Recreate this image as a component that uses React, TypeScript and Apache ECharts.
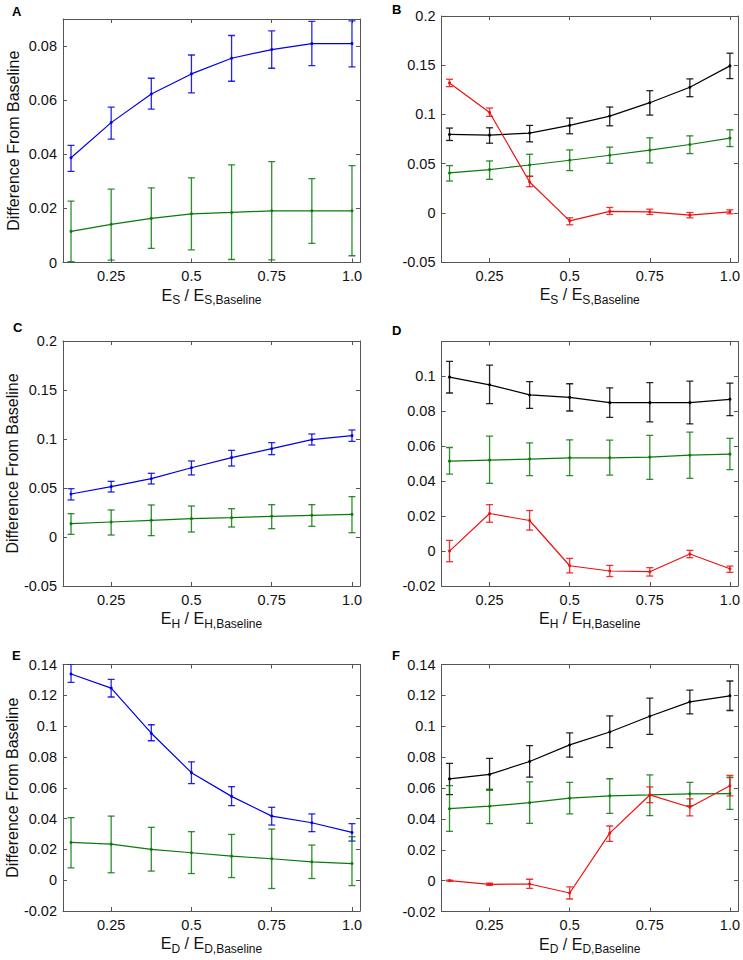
import React, { useEffect, useRef } from "react";
import * as echarts from "echarts";

// x positions (E / E_Baseline)
const X = [0.125, 0.25, 0.375, 0.5, 0.625, 0.75, 0.875, 1.0];
const X_TICKS = [0.25, 0.5, 0.75, 1.0];

// Panel A
const A_blue = [0.0387, 0.0517, 0.0623, 0.0697, 0.0755, 0.0787, 0.0809, 0.0809];
const A_blue_lo = [0.0337, 0.0456, 0.0567, 0.0627, 0.067, 0.0718, 0.0728, 0.0723];
const A_blue_hi = [0.0433, 0.0574, 0.0681, 0.0767, 0.0839, 0.0856, 0.0891, 0.0893];
const A_green = [0.0115, 0.0141, 0.0163, 0.018, 0.0185, 0.0191, 0.0191, 0.0191];
const A_green_lo = [0.0003, 0.0009, 0.0052, 0.0047, 0.0011, 0.001, 0.0071, 0.0025];
const A_green_hi = [0.0227, 0.0271, 0.0276, 0.0313, 0.0361, 0.0373, 0.031, 0.0358];

// Panel B
const B_black = [0.0796, 0.0789, 0.081, 0.0888, 0.0983, 0.1119, 0.1276, 0.1493];
const B_black_lo = [0.0735, 0.0707, 0.0721, 0.0803, 0.0884, 0.0993, 0.118, 0.1364];
const B_black_hi = [0.0861, 0.0864, 0.0888, 0.0963, 0.1075, 0.1241, 0.1361, 0.1622];
const B_green = [0.0405, 0.0439, 0.0486, 0.0534, 0.0585, 0.0636, 0.0694, 0.0759];
const B_green_lo = [0.0323, 0.034, 0.0371, 0.0429, 0.0503, 0.0507, 0.0602, 0.0673];
const B_green_hi = [0.048, 0.0527, 0.0595, 0.0639, 0.0667, 0.0762, 0.0782, 0.0844];
const B_red = [0.132, 0.102, 0.0313, -0.0082, 0.0014, 0.001, -0.0024, 0.001];
const B_red_lo = [0.1282, 0.098, 0.0265, -0.0122, -0.0017, -0.0017, -0.0051, -0.001];
const B_red_hi = [0.1357, 0.1065, 0.0371, -0.0051, 0.0054, 0.0037, 0.0003, 0.003];

// Panel C
const C_blue = [0.0439, 0.0514, 0.0595, 0.0707, 0.081, 0.0901, 0.0993, 0.1034];
const C_blue_lo = [0.0378, 0.0459, 0.0541, 0.0633, 0.0724, 0.084, 0.0939, 0.0976];
const C_blue_hi = [0.0493, 0.0568, 0.065, 0.0776, 0.0884, 0.0963, 0.1051, 0.1092];
const C_green = [0.0136, 0.0153, 0.017, 0.0187, 0.0197, 0.0211, 0.0221, 0.0231];
const C_green_lo = [0.0027, 0.002, 0.0014, 0.0051, 0.0102, 0.0085, 0.0109, 0.0044];
const C_green_hi = [0.0238, 0.0276, 0.0327, 0.0316, 0.0289, 0.033, 0.033, 0.0412];

// Panel D
const D_black = [0.0996, 0.0952, 0.0894, 0.088, 0.085, 0.085, 0.085, 0.0869];
const D_black_lo = [0.0905, 0.0844, 0.0817, 0.0802, 0.0766, 0.074, 0.0728, 0.0776];
const D_black_hi = [0.1086, 0.1065, 0.097, 0.0958, 0.0935, 0.0964, 0.0973, 0.0962];
const D_green = [0.0515, 0.0521, 0.0527, 0.0534, 0.0534, 0.0538, 0.0549, 0.0555];
const D_green_lo = [0.0441, 0.0388, 0.0432, 0.0432, 0.0435, 0.0411, 0.0416, 0.0466];
const D_green_hi = [0.0593, 0.0658, 0.062, 0.0637, 0.0635, 0.0662, 0.0681, 0.0645];
const D_red = [0.0, 0.0215, 0.0175, -0.0084, -0.0114, -0.0118, -0.0017, -0.0101];
const D_red_lo = [-0.0061, 0.0165, 0.012, -0.0125, -0.0146, -0.0143, -0.0038, -0.0122];
const D_red_hi = [0.0061, 0.0266, 0.0232, -0.0042, -0.0082, -0.0095, 0.0004, -0.0086];

// Panel E
const E_blue = [0.1338, 0.1247, 0.0954, 0.0698, 0.0544, 0.0416, 0.0373, 0.031];
const E_blue_lo = [0.1284, 0.1189, 0.0905, 0.0627, 0.0484, 0.0358, 0.0315, 0.0254];
const E_blue_hi = [0.1401, 0.1304, 0.1009, 0.0768, 0.0607, 0.0473, 0.043, 0.0367];
const E_green = [0.0245, 0.0234, 0.02, 0.0178, 0.0156, 0.0139, 0.0119, 0.0108];
const E_green_lo = [0.008, 0.0048, 0.0059, 0.0043, 0.0017, -0.0054, 0.0011, -0.0035];
const E_green_hi = [0.0406, 0.0416, 0.0343, 0.0315, 0.0297, 0.0332, 0.0228, 0.0282];

// Panel F
const F_black = [0.0659, 0.0688, 0.0772, 0.0879, 0.0963, 0.1065, 0.1158, 0.1197];
const F_black_lo = [0.0557, 0.0586, 0.067, 0.08, 0.0861, 0.0948, 0.108, 0.1102];
const F_black_hi = [0.0759, 0.0792, 0.0874, 0.0957, 0.1067, 0.1182, 0.1234, 0.1293];
const F_green = [0.0466, 0.0482, 0.0505, 0.0534, 0.0549, 0.0555, 0.0562, 0.0564];
const F_green_lo = [0.0319, 0.0369, 0.0371, 0.0432, 0.0436, 0.0421, 0.0486, 0.0462];
const F_green_hi = [0.0616, 0.0592, 0.064, 0.0636, 0.066, 0.0685, 0.0636, 0.0668];
const F_red = [0.0, -0.0024, -0.0022, -0.008, 0.0308, 0.0555, 0.0475, 0.0614];
const F_red_lo = [-0.0003, -0.003, -0.005, -0.0119, 0.0254, 0.0505, 0.0419, 0.0549];
const F_red_hi = [0.0003, -0.0017, 0.0009, -0.0041, 0.0354, 0.0607, 0.0529, 0.0681];

// Y tick labels per panel
const A_yTicks = [0, 0.02, 0.04, 0.06, 0.08];
const B_yTicks = [-0.05, 0, 0.05, 0.1, 0.15, 0.2];
const C_yTicks = [-0.05, 0, 0.05, 0.1, 0.15, 0.2];
const D_yTicks = [-0.02, 0, 0.02, 0.04, 0.06, 0.08, 0.1];
const E_yTicks = [-0.02, 0, 0.02, 0.04, 0.06, 0.08, 0.1, 0.12, 0.14];
const F_yTicks = [-0.02, 0, 0.02, 0.04, 0.06, 0.08, 0.1, 0.12, 0.14];

const BLUE = "#0000e8";
const GREEN = "#0b7a0b";
const RED = "#ee1111";
const BLACK = "#000000";
const FONT = "'Liberation Sans', Arial, sans-serif";
const AXIS_COLOR = "#555555";

type S = { color: string; mean: number[]; lo: number[]; hi: number[] };
type P = {
  letter: string;
  sub: string;
  left: number;
  top: number;
  bottom: number;
  yMin: number;
  yMax: number;
  yTicks: number[];
  yTitle: boolean;
  series: S[];
  letterX: number;
  letterY: number;
};

const LEFT_L = 63;
const RIGHT_L = 360;
const LEFT_R = 441.5;
const RIGHT_R = 738.5;

const panels: P[] = [
  {
    letter: "A", sub: "S", left: LEFT_L, top: 19, bottom: 262.5, yMin: 0, yMax: 0.09, yTicks: A_yTicks, yTitle: true,
    letterX: 12, letterY: 5,
    series: [
      { color: BLUE, mean: A_blue, lo: A_blue_lo, hi: A_blue_hi },
      { color: GREEN, mean: A_green, lo: A_green_lo, hi: A_green_hi },
    ],
  },
  {
    letter: "B", sub: "S", left: LEFT_R, top: 16, bottom: 262, yMin: -0.05, yMax: 0.2, yTicks: B_yTicks, yTitle: false,
    letterX: 392, letterY: 3,
    series: [
      { color: BLACK, mean: B_black, lo: B_black_lo, hi: B_black_hi },
      { color: GREEN, mean: B_green, lo: B_green_lo, hi: B_green_hi },
      { color: RED, mean: B_red, lo: B_red_lo, hi: B_red_hi },
    ],
  },
  {
    letter: "C", sub: "H", left: LEFT_L, top: 341, bottom: 586, yMin: -0.05, yMax: 0.2, yTicks: C_yTicks, yTitle: true,
    letterX: 13, letterY: 321,
    series: [
      { color: BLUE, mean: C_blue, lo: C_blue_lo, hi: C_blue_hi },
      { color: GREEN, mean: C_green, lo: C_green_lo, hi: C_green_hi },
    ],
  },
  {
    letter: "D", sub: "H", left: LEFT_R, top: 341.5, bottom: 586, yMin: -0.02, yMax: 0.12, yTicks: D_yTicks, yTitle: false,
    letterX: 392, letterY: 324,
    series: [
      { color: BLACK, mean: D_black, lo: D_black_lo, hi: D_black_hi },
      { color: GREEN, mean: D_green, lo: D_green_lo, hi: D_green_hi },
      { color: RED, mean: D_red, lo: D_red_lo, hi: D_red_hi },
    ],
  },
  {
    letter: "E", sub: "D", left: LEFT_L, top: 664.5, bottom: 911, yMin: -0.02, yMax: 0.14, yTicks: E_yTicks, yTitle: true,
    letterX: 12, letterY: 649,
    series: [
      { color: BLUE, mean: E_blue, lo: E_blue_lo, hi: E_blue_hi },
      { color: GREEN, mean: E_green, lo: E_green_lo, hi: E_green_hi },
    ],
  },
  {
    letter: "F", sub: "D", left: LEFT_R, top: 664.5, bottom: 911.5, yMin: -0.02, yMax: 0.14, yTicks: F_yTicks, yTitle: false,
    letterX: 392, letterY: 649,
    series: [
      { color: BLACK, mean: F_black, lo: F_black_lo, hi: F_black_hi },
      { color: GREEN, mean: F_green, lo: F_green_lo, hi: F_green_hi },
      { color: RED, mean: F_red, lo: F_red_lo, hi: F_red_hi },
    ],
  },
];

const fmtY = (v: number) => String(+Number(v).toFixed(3));
const fmtX = (v: number) => (Math.abs(v - 1) < 1e-9 ? "1.0" : String(+Number(v).toFixed(3)));

function buildOption() {
  const grid: any[] = [];
  const xAxis: any[] = [];
  const yAxis: any[] = [];
  const series: any[] = [];
  const graphic: any[] = [];

  panels.forEach((p, i) => {
    const right = p.left < 200 ? RIGHT_L : RIGHT_R;
    grid.push({
      left: p.left,
      top: p.top,
      width: right - p.left,
      height: p.bottom - p.top,
      show: false,
    });
    const lineStyle = { color: AXIS_COLOR, width: 1 };
    xAxis.push({
      type: "value",
      gridIndex: i,
      min: 0.1,
      max: 1.025,
      position: "bottom",
      axisLine: { show: true, onZero: false, lineStyle },
      axisTick: { show: true, inside: true, length: 4, customValues: X_TICKS, lineStyle },
      axisLabel: {
        customValues: X_TICKS,
        formatter: fmtX,
        fontSize: 14.5,
        fontFamily: FONT,
        color: "#111",
        margin: 6,
      },
      splitLine: { show: false },
      name: `{m|E}{s|${p.sub}}{m| / E}{s|${p.sub},Baseline}`,
      nameLocation: "middle",
      nameGap: 21,
      nameTextStyle: {
        fontFamily: FONT,
        color: "#111",
        rich: {
          m: { fontSize: 16, fontFamily: FONT, color: "#111", lineHeight: 20 },
          s: { fontSize: 12, fontFamily: FONT, color: "#111", lineHeight: 20, padding: [10, 0, 0, 0] },
        },
      },
    });
    xAxis.push({
      type: "value",
      gridIndex: i,
      min: 0.1,
      max: 1.025,
      position: "top",
      axisLine: { show: true, onZero: false, lineStyle },
      axisTick: { show: true, inside: true, length: 4, customValues: X_TICKS, lineStyle },
      axisLabel: { show: false },
      splitLine: { show: false },
    });
    yAxis.push({
      type: "value",
      gridIndex: i,
      min: p.yMin,
      max: p.yMax,
      position: "left",
      axisLine: { show: true, onZero: false, lineStyle },
      axisTick: { show: true, inside: true, length: 4, customValues: p.yTicks, lineStyle },
      axisLabel: {
        customValues: p.yTicks,
        formatter: fmtY,
        fontSize: 14.5,
        fontFamily: FONT,
        color: "#111",
        margin: 6,
      },
      splitLine: { show: false },
      name: p.yTitle ? "Difference From Baseline" : "",
      nameLocation: "middle",
      nameRotate: 90,
      nameGap: 42,
      nameTextStyle: { fontFamily: FONT, fontSize: 16, color: "#111" },
    });
    yAxis.push({
      type: "value",
      gridIndex: i,
      min: p.yMin,
      max: p.yMax,
      position: "right",
      axisLine: { show: true, onZero: false, lineStyle },
      axisTick: { show: true, inside: true, length: 4, customValues: p.yTicks, lineStyle },
      axisLabel: { show: false },
      splitLine: { show: false },
    });

    p.series.forEach((s) => {
      series.push({
        type: "custom",
        xAxisIndex: i * 2,
        yAxisIndex: i * 2,
        clip: true,
        silent: true,
        data: X.map((x, k) => [x, s.lo[k], s.hi[k]]),
        encode: { x: 0, y: [1, 2] },
        renderItem: (params: any, api: any) => {
          const x = api.value(0);
          const p1 = api.coord([x, api.value(1)]);
          const p2 = api.coord([x, api.value(2)]);
          const w = 3.5;
          const style = { stroke: s.color, lineWidth: 1.3, opacity: 0.85 };
          return {
            type: "group",
            children: [
              { type: "line", shape: { x1: p1[0], y1: p1[1], x2: p2[0], y2: p2[1] }, style },
              { type: "line", shape: { x1: p1[0] - w, y1: p1[1], x2: p1[0] + w, y2: p1[1] }, style },
              { type: "line", shape: { x1: p2[0] - w, y1: p2[1], x2: p2[0] + w, y2: p2[1] }, style },
            ],
          };
        },
      });
      series.push({
        type: "line",
        xAxisIndex: i * 2,
        yAxisIndex: i * 2,
        silent: true,
        data: X.map((x, k) => [x, s.mean[k]]),
        symbol: "circle",
        symbolSize: 3,
        showSymbol: true,
        lineStyle: { color: s.color, width: 1.2 },
        itemStyle: { color: s.color },
      });
    });

    graphic.push({
      type: "text",
      left: p.letterX,
      top: p.letterY,
      style: { text: p.letter, font: `bold 13px ${FONT}`, fill: "#000" },
    });
  });

  return { animation: false, backgroundColor: "#fff", grid, xAxis, yAxis, series, graphic };
}

export default function App() {
  const ref = useRef<HTMLDivElement>(null);
  useEffect(() => {
    if (!ref.current) return;
    const chart = echarts.init(ref.current, undefined, { renderer: "svg" });
    chart.setOption(buildOption() as any);
    return () => chart.dispose();
  }, []);
  return (
    <div
      ref={ref}
      style={{ position: "absolute", left: 0, top: 0, width: 743, height: 960, background: "#fff" }}
    />
  );
}
